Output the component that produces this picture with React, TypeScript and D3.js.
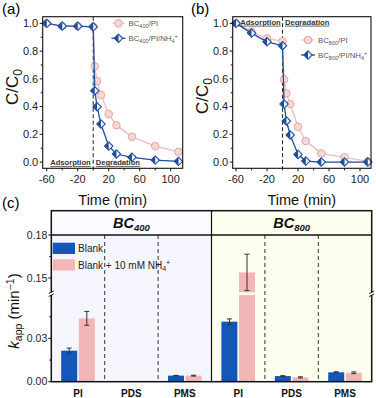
import React from "react";
import * as d3 from "d3";

// ---------- Data ----------
const times = [-60, -40, -20, 0, 2, 5, 10, 20, 30, 50, 80, 110];
const aPI = [1.0, 0.98, 0.98, 0.975, 0.69, 0.584, 0.483, 0.346, 0.265, 0.182, 0.115, 0.074];
const aNH4 = [1.0, 0.98, 0.98, 0.975, 0.514, 0.399, 0.274, 0.115, 0.058, 0.034, 0.014, 0.005];
const bPI = [1.0, 0.94, 0.891, 0.87, 0.596, 0.495, 0.418, 0.255, 0.151, 0.063, 0.034, 0.005];
const bNH4 = [1.0, 0.93, 0.867, 0.839, 0.418, 0.296, 0.195, 0.055, 0.007, 0.0, 0.0, 0.0];
const xTicks = [-60, -20, 20, 60, 100];
const xMinor = [-40, 0, 40, 80];
const yTicks = [0, 0.2, 0.4, 0.6, 0.8, 1.0];
const yMinor = [0.1, 0.3, 0.5, 0.7, 0.9];

const groups = ["BC400", "BC800"];
const oxidants = ["PI", "PDS", "PMS"];
const blank400 = [0.0215, 0, 0.0042];
const blank400Err = [0.0018, 0, 0.0002];
const nh400 = [0.0439, 0, 0.0042];
const nh400Err = [0.0048, 0, 0.0003];
const blank800 = [0.0416, 0.0039, 0.0065];
const blank800Err = [0.0019, 0.0003, 0.0004];
const nh800 = [0.1539, 0.003, 0.0062];
const nh800Err = [0.0127, 0.0004, 0.0006];
const kTicksLow = [0, 0.03];
const kTicksHigh = [0.15, 0.18];
const kMinorLow = [0.015, 0.045];
const kMinorHigh = [0.165];

const BLUE = "#1f4e9c";
const PINK_LINE = "#efbcbc";
const PINK_FILL = "#f8d6d6";
const PINK_STROKE = "#e8a6a6";
const BAR_BLUE = "#1557b8";
const BAR_PINK = "#f2b6b6";
const FONT = "'Liberation Sans', Arial, sans-serif";

function Diamond({ x, y, s = 4.2 }: { x: number; y: number; s?: number }) {
  return (
    <g transform={`translate(${x},${y})`}>
      <path d={`M0,${-s}L${s},0L0,${s}L${-s},0Z`} fill="#eef3ff" stroke={BLUE} strokeWidth={1.1} />
      <path d={`M0,${-s}L0,${s}L${-s},0Z`} fill={BLUE} />
    </g>
  );
}

function Circle({ x, y }: { x: number; y: number }) {
  return <circle cx={x} cy={y} r={3.8} fill={PINK_FILL} stroke={PINK_STROKE} strokeWidth={1} />;
}

function LinePanel(props: {
  left: number; right: number; top: number; bottom: number;
  xDomain: [number, number]; pi: number[]; nh: number[]; sub: string;
  label: string; labelX: number; ylabelCY: number; annotTop: boolean; legX: number; legY: number;
}) {
  const { left, right, top, bottom, xDomain, pi, nh, sub, label, labelX, ylabelCY, annotTop, legX, legY } = props;
  const x = d3.scaleLinear().domain(xDomain).range([left, right]);
  const y = d3.scaleLinear().domain([-0.045, 1.048]).range([bottom, top]);
  const line = d3.line<number>().x((_, i) => x(times[i])).y((d) => y(d));
  const annY = annotTop ? top + 8 : bottom - 3;
  return (
    <g fontFamily={FONT}>
      <text x={labelX} y={14} fontSize={15}>{label}</text>
      {/* dashed divider */}
      <line x1={x(0)} x2={x(0)} y1={top} y2={bottom} stroke="#222" strokeDasharray="4,2.5" strokeWidth={1} />
      <path d={line(pi) || ""} fill="none" stroke={PINK_LINE} strokeWidth={1.3} />
      {pi.map((d, i) => <Circle key={"p" + i} x={x(times[i])} y={y(d)} />)}
      <path d={line(nh) || ""} fill="none" stroke={BLUE} strokeWidth={1.3} />
      {nh.map((d, i) => <Diamond key={"n" + i} x={x(times[i])} y={y(d)} />)}
      {/* frame */}
      <rect x={left} y={top} width={right - left} height={bottom - top} fill="none" stroke="#111" strokeWidth={1.1} />
      {/* x ticks */}
      {xTicks.map((t) => (
        <g key={"xt" + t}>
          <line x1={x(t)} x2={x(t)} y1={bottom} y2={bottom + 3} stroke="#111" />
          <text x={x(t)} y={bottom + 15} fontSize={11} textAnchor="middle" fill="#222">{t < 0 ? "-" + Math.abs(t) : t}</text>
        </g>
      ))}
      {xMinor.map((t) => <line key={"xm" + t} x1={x(t)} x2={x(t)} y1={bottom} y2={bottom + 2} stroke="#111" />)}
      {yTicks.map((t) => (
        <g key={"yt" + t}>
          <line x1={left - 3} x2={left} y1={y(t)} y2={y(t)} stroke="#111" />
          <text x={left - 4.5} y={y(t) + 3.8} fontSize={11} textAnchor="end" fill="#222">{t.toFixed(1)}</text>
        </g>
      ))}
      {yMinor.map((t) => <line key={"ym" + t} x1={left - 2} x2={left} y1={y(t)} y2={y(t)} stroke="#111" />)}
      {/* annotations */}
      <text x={left + 7.5} y={annY} fontSize={7.6} fontWeight="bold" textDecoration="underline" fill="#333">Adsorption</text>
      <text x={x(0) + 2.5} y={annY} fontSize={7.6} fontWeight="bold" textDecoration="underline" fill="#333">Degradation</text>
      {/* legend */}
      <line x1={legX - 6} x2={legX + 6} y1={legY} y2={legY} stroke={PINK_LINE} strokeWidth={1.3} />
      <Circle x={legX} y={legY} />
      <text x={legX + 10} y={legY + 2.8} fontSize={7.8} fill="#555">BC<tspan fontSize={5.5} dy={2}>{sub}</tspan><tspan dy={-2}>/PI</tspan></text>
      <line x1={legX - 7} x2={legX + 7} y1={legY + 15} y2={legY + 15} stroke={BLUE} strokeWidth={1.3} />
      <Diamond x={legX} y={legY + 15} />
      <text x={legX + 10} y={legY + 17.8} fontSize={7.8} fill="#555">BC<tspan fontSize={5.5} dy={2}>{sub}</tspan><tspan dy={-2}>/PI/NH</tspan><tspan fontSize={5.5} dy={2}>4</tspan><tspan fontSize={5.5} dy={-5}>+</tspan></text>
      {/* axis labels */}
      <text x={(left + right) / 2} y={205} fontSize={14.5} textAnchor="middle" fill="#111">Time (min)</text>
      <text transform={`translate(${left - 24.5},${ylabelCY}) rotate(-90)`} fontSize={17} textAnchor="middle" fill="#111">C/C<tspan fontSize={12} dy={4}>0</tspan></text>
    </g>
  );
}

function BarPanel() {
  const left = 51.3, right = 371.7, top = 210.7, headBottom = 235, bottom = 381.7;
  const slots = groups.flatMap((g) => oxidants.map((o) => g + "-" + o));
  const xb = d3.scaleBand().domain(slots).range([left, right]).padding(0);
  const yLow = d3.scaleLinear().domain([0, 0.06]).range([bottom, 295.1]);
  const yHigh = d3.scaleLinear().domain([0.14, 0.18]).range([292.3, headBottom]);
  const breakY = 293.7;
  const yv = (v: number) => (v <= 0.06 ? yLow(v) : yHigh(v));
  const barW = 16, gap = 1.6;
  const series = [
    { g: "BC400", vals: blank400, errs: blank400Err, color: BAR_BLUE, off: -gap / 2 - barW },
    { g: "BC400", vals: nh400, errs: nh400Err, color: BAR_PINK, off: gap / 2 },
    { g: "BC800", vals: blank800, errs: blank800Err, color: BAR_BLUE, off: -gap / 2 - barW },
    { g: "BC800", vals: nh800, errs: nh800Err, color: BAR_PINK, off: gap / 2 },
  ];
  const mid = xb(slots[3])!;
  return (
    <g fontFamily={FONT}>
      <text x={2} y={208} fontSize={15}>(c)</text>
      {/* backgrounds */}
      <rect x={left} y={top} width={mid - left} height={bottom - top} fill="#f5f5fd" />
      <rect x={mid} y={top} width={right - mid} height={bottom - top} fill="#fefef0" />
      <rect x={left} y={top} width={mid - left} height={headBottom - top} fill="#fbfbff" />
      {/* dashed separators */}
      {slots.slice(1).map((s, i) => (i === 2 ? null : (
        <line key={"d" + s} x1={xb(s)} x2={xb(s)} y1={headBottom} y2={bottom} stroke="#333" strokeDasharray="4,3" strokeWidth={1} />
      )))}
      {/* bars */}
      {series.map((s, si) => s.vals.map((v, i) => {
        if (v <= 0) return null;
        const c = xb(s.g + "-" + oxidants[i])! + xb.bandwidth() / 2;
        const bx = c + s.off;
        const ex = bx + barW / 2;
        const parts = v > 0.06 ? (
          <>
            <rect x={bx} y={yLow(0.06)} width={barW} height={bottom - yLow(0.06)} fill={s.color} />
            <rect x={bx} y={yHigh(v)} width={barW} height={yHigh(0.14) - yHigh(v)} fill={s.color} />
          </>
        ) : (
          <rect x={bx} y={yLow(v)} width={barW} height={bottom - yLow(v)} fill={s.color} />
        );
        const e = s.errs[i];
        return (
          <g key={"b" + si + "-" + i}>
            {parts}
            <line x1={ex} x2={ex} y1={yv(v + e)} y2={yv(v - e)} stroke="#333" strokeWidth={1} />
            <line x1={ex - 2.5} x2={ex + 2.5} y1={yv(v + e)} y2={yv(v + e)} stroke="#333" strokeWidth={1} />
            <line x1={ex - 2.5} x2={ex + 2.5} y1={yv(v - e)} y2={yv(v - e)} stroke="#333" strokeWidth={1} />
          </g>
        );
      }))}
      {/* frame */}
      <rect x={left} y={top} width={right - left} height={bottom - top} fill="none" stroke="#111" strokeWidth={1.5} />
      <line x1={left} x2={right} y1={headBottom} y2={headBottom} stroke="#111" strokeWidth={1.5} />
      <line x1={mid} x2={mid} y1={top} y2={bottom} stroke="#111" strokeWidth={1.2} />
      {/* headers */}
      {groups.map((g, gi) => {
        const cx = gi === 0 ? (left + mid) / 2 : (mid + right) / 2;
        return (
          <text key={g} x={cx} y={228} fontSize={14.5} fontWeight="bold" fontStyle="italic" textAnchor="middle" fill="#111">
            BC<tspan fontSize={9.5} dy={3}>{g.slice(2)}</tspan>
          </text>
        );
      })}
      {/* y ticks */}
      {kTicksLow.map((t) => (
        <g key={"kl" + t}>
          <line x1={left - 3} x2={left} y1={yLow(t)} y2={yLow(t)} stroke="#111" />
          <text x={left - 4} y={yLow(t) + 3.6} fontSize={10.5} textAnchor="end" fill="#222">{t.toFixed(2)}</text>
        </g>
      ))}
      {kTicksHigh.map((t) => (
        <g key={"kh" + t}>
          <line x1={left - 3} x2={left} y1={yHigh(t)} y2={yHigh(t)} stroke="#111" />
          <text x={left - 4} y={yHigh(t) + 3.6} fontSize={10.5} textAnchor="end" fill="#222">{t.toFixed(2)}</text>
        </g>
      ))}
      {kMinorLow.map((t) => <line key={"mkl" + t} x1={left - 2} x2={left} y1={yLow(t)} y2={yLow(t)} stroke="#111" />)}
      {kMinorHigh.map((t) => <line key={"mkh" + t} x1={left - 2} x2={left} y1={yHigh(t)} y2={yHigh(t)} stroke="#111" />)}
      {/* axis breaks */}
      {[left, right].map((bxp) => (
        <g key={"br" + bxp}>
          <rect x={bxp - 2} y={breakY - 1.3} width={4} height={2.6} fill="#fff" />
          <line x1={bxp - 2.5} x2={bxp + 2.5} y1={breakY - 0.2} y2={breakY - 2.8} stroke="#111" strokeWidth={1} />
          <line x1={bxp - 2.5} x2={bxp + 2.5} y1={breakY + 2.8} y2={breakY + 0.2} stroke="#111" strokeWidth={1} />
        </g>
      ))}
      {/* x labels */}
      {slots.map((s, i) => (
        <text key={"xl" + s} x={xb(s)! + xb.bandwidth() / 2} y={397} fontSize={10} fontWeight="bold" textAnchor="middle" fill="#111">{oxidants[i % 3]}</text>
      ))}
      {/* legend */}
      <rect x={52.7} y={242.7} width={22.3} height={11.3} fill={BAR_BLUE} />
      <text x={78} y={252} fontSize={10} fill="#222">Blank</text>
      <rect x={52.7} y={259.3} width={22.3} height={11.3} fill={BAR_PINK} />
      <text x={78} y={268.6} fontSize={10} fill="#222">Blank + 10 mM NH<tspan fontSize={7} dy={2}>4</tspan><tspan fontSize={7} dy={-6}>+</tspan></text>
      {/* y label */}
      <text transform={`translate(19,311) rotate(-90)`} fontSize={15} textAnchor="middle" fill="#111">
        <tspan fontStyle="italic">k</tspan><tspan fontSize={10.5} dy={3}>app</tspan><tspan dy={-3}> (min</tspan><tspan fontSize={10.5} dy={-5}>−1</tspan><tspan dy={5}>)</tspan>
      </text>
    </g>
  );
}

export default function App() {
  return (
    <svg width={376} height={398} style={{ position: "absolute", left: 0, top: 0, background: "#fff" }}>
      <rect width={376} height={398} fill="#fff" />
      <LinePanel left={42.7} right={182.7} top={16.7} bottom={168.3} xDomain={[-65.2, 115.5]} pi={aPI} nh={aNH4}
        sub="400" label="(a)" labelX={2} ylabelCY={87} annotTop={false} legX={118.5} legY={23.3} />
      <LinePanel left={232.7} right={371} top={16.7} bottom={168.3} xDomain={[-64.3, 114.2]} pi={bPI} nh={bNH4}
        sub="800" label="(b)" labelX={191} ylabelCY={96} annotTop={true} legX={308} legY={40} />
      <BarPanel />
    </svg>
  );
}
